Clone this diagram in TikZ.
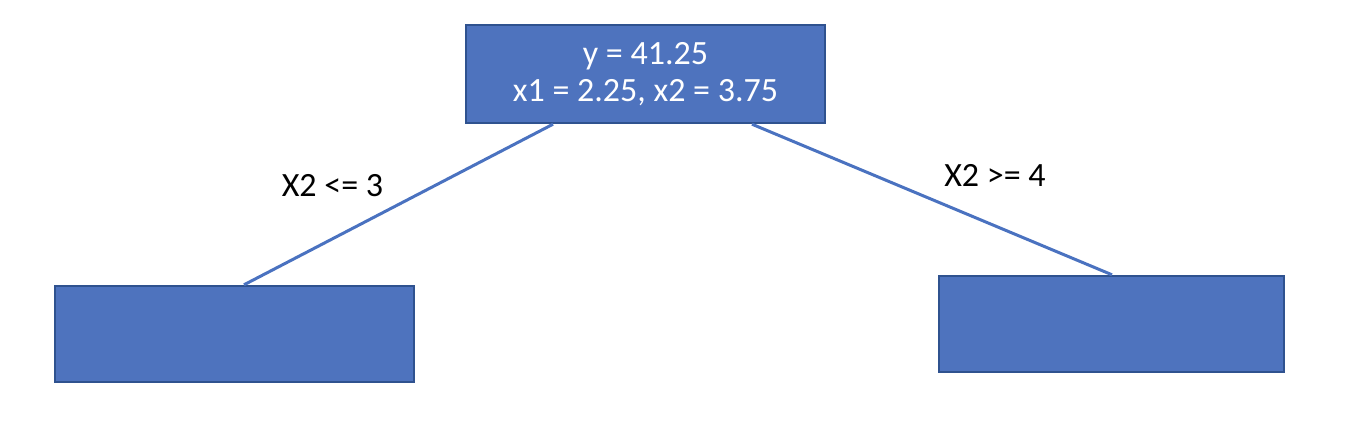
\documentclass[tikz,border=0pt]{standalone}
\usepackage{fontspec}
\setmainfont{Carlito}
\usetikzlibrary{calc}
\definecolor{boxfill}{HTML}{4E73BE}
\definecolor{boxline}{HTML}{2F528F}
\definecolor{linkcol}{HTML}{4A72C0}
\begin{document}
\begin{tikzpicture}[x=1pt,y=-1pt,
  treebox/.style={draw=boxline,line width=2.4pt,fill=boxfill,inner sep=0pt,
    text=white,align=center,font=\fontsize{34}{37}\selectfont},
  link/.style={draw=linkcol,line width=3pt},
  cond/.style={font=\fontsize{34}{40}\selectfont,text=black}]
\useasboundingbox (0,0) rectangle (1362,428);
\node[treebox,minimum width=359pt,minimum height=98pt] (top) at (645.5,74)
  {y = 41.25\\x1 = 2.25, x2 = 3.75};
\node[treebox,minimum width=359pt,minimum height=96pt] (left) at (234.5,334) {};
\node[treebox,minimum width=345pt,minimum height=96pt] (right) at (1111.5,324) {};
\draw[link] ([xshift=-92.5pt]top.south) -- ([xshift=9.5pt]left.north);
\draw[link] ([xshift=106.5pt]top.south) -- ([xshift=0.5pt]right.north);
\node[cond] (lc) at (332.5,186) {X2 <= 3};
\node[cond] (rc) at (995,175) {X2 >= 4};
\end{tikzpicture}
\end{document}
